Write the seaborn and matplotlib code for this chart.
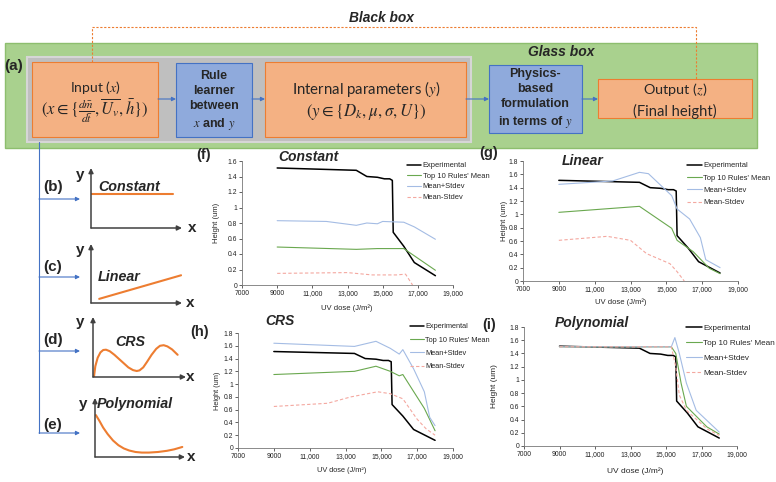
import matplotlib
matplotlib.use("Agg")
import matplotlib.pyplot as plt
import seaborn as sns
import pandas as pd
from matplotlib.patches import Rectangle

# ------------------------------------------------------------------ data
series_names = ["Experimental", "Top 10 Rules' Mean", "Mean+Stdev", "Mean-Stdev"]
dose_ticks = [7000, 9000, 11000, 13000, 15000, 17000, 19000]
dose_tick_labels = ["7000", "9000", "11,000", "13,000", "15,000", "17,000", "19,000"]

exp_dose = [9000, 13500, 14100, 14700, 15100, 15400, 15550, 15600, 16200, 16800, 18000]
exp_height = [1.51, 1.48, 1.40, 1.39, 1.37, 1.37, 1.35, 0.68, 0.50, 0.29, 0.12]

# (f) Constant
const_mean_dose = [9000, 13500, 14700, 16200, 18000]
const_mean = [0.49, 0.46, 0.47, 0.47, 0.19]
const_plus_dose = [9000, 11800, 13500, 14100, 14700, 15000, 16200, 16800, 18000]
const_plus = [0.83, 0.82, 0.77, 0.80, 0.79, 0.82, 0.81, 0.75, 0.59]
const_minus_dose = [9000, 13000, 14400, 15800, 16300, 16700]
const_minus = [0.15, 0.16, 0.13, 0.13, 0.14, 0.0]

# (g) Linear
lin_mean_dose = [9000, 13500, 15300, 15600, 16500, 17400, 18000]
lin_mean = [1.03, 1.12, 0.79, 0.61, 0.44, 0.19, 0.11]
lin_plus_dose = [9000, 12000, 13500, 14000, 15300, 15600, 16300, 16900, 17200, 18000]
lin_plus = [1.45, 1.50, 1.63, 1.61, 1.28, 1.08, 0.93, 0.65, 0.32, 0.20]
lin_minus_dose = [9000, 11700, 13000, 13900, 15200, 15600, 16000]
lin_minus = [0.61, 0.67, 0.61, 0.41, 0.26, 0.14, 0.0]

# (h) CRS
crs_mean_dose = [9000, 13500, 14700, 15500, 16000, 16200, 17400, 18000]
crs_mean = [1.15, 1.20, 1.28, 1.20, 1.13, 1.15, 0.62, 0.27]
crs_plus_dose = [9000, 13500, 14700, 15500, 16000, 16200, 16800, 17400, 17700, 18000]
crs_plus = [1.64, 1.59, 1.67, 1.56, 1.47, 1.54, 1.24, 0.88, 0.48, 0.35]
crs_minus_dose = [9000, 12000, 13300, 14800, 15500, 16200, 17000, 17500, 18000]
crs_minus = [0.65, 0.70, 0.80, 0.88, 0.85, 0.77, 0.45, 0.30, 0.20]

# (i) Polynomial
poly_mean_dose = [9000, 15300, 15550, 15850, 16150, 17300, 18000]
poly_mean = [1.50, 1.50, 1.40, 0.95, 0.60, 0.29, 0.18]
poly_plus_dose = [9000, 15300, 15500, 15750, 16150, 16700, 18000]
poly_plus = [1.50, 1.50, 1.64, 1.40, 0.95, 0.54, 0.21]
poly_minus_dose = [9000, 15300, 15550, 15750, 16150, 17300, 18000]
poly_minus = [1.50, 1.50, 1.20, 0.77, 0.54, 0.26, 0.16]

# schematic curves (illustrative, local units 0..10)
sch_const_x = [0.0, 9.0]
sch_const_y = [5.7, 5.7]
sch_lin_x = [0.9, 9.9]
sch_lin_y = [0.7, 4.7]
sch_crs_x = [0.1, 0.25, 0.5, 0.8, 1.1, 1.4, 1.8, 2.3, 2.8, 3.3, 3.8, 4.3, 4.7, 5.0, 5.4,
             5.8, 6.3, 6.8, 7.2, 7.6, 8.0, 8.5, 9.1]
sch_crs_y = [0.0, 1.8, 3.2, 4.1, 4.5, 4.55, 4.3, 3.7, 3.0, 2.3, 1.6, 1.15, 1.0, 1.1, 1.6,
             2.5, 3.7, 4.7, 5.2, 5.3, 5.1, 4.6, 3.7]
sch_poly_x = [0.1, 0.5, 0.9, 1.4, 2.0, 2.6, 3.2, 3.8, 4.5, 5.2, 6.0, 7.0, 8.0, 8.8, 9.7]
sch_poly_y = [7.1, 6.1, 5.0, 3.9, 2.8, 2.0, 1.45, 1.1, 0.85, 0.75, 0.75, 0.85, 1.05, 1.3, 1.7]

# ------------------------------------------------------------------ style
sns.set_theme(style="ticks")
plt.rcParams["font.family"] = ["Liberation Sans", "DejaVu Sans"]
plt.rcParams["mathtext.fontset"] = "stix"

W, H = 776, 482
fig = plt.figure(figsize=(W / 100, H / 100), dpi=100)
fig.patch.set_facecolor("white")


def frac_rect(left, top, right, bottom):
    return [left / W, 1 - bottom / H, (right - left) / W, (bottom - top) / H]


ORANGE_F, ORANGE_E = "#F4B183", "#ED7D31"
BLUE_F, BLUE_E = "#8FAADC", "#4472C4"
GREEN_F, GREEN_E = "#A9D18E", "#8DBE6E"
GRAY_F, GRAY_E = "#BFBFBF", "#D6D6D6"
ARROW = "#4472C4"

# ------------------------------------------------------------------ overlay (diagram)
ov = fig.add_axes([0, 0, 1, 1])
ov.set_xlim(0, W)
ov.set_ylim(H, 0)
ov.axis("off")


def box(l, t, r, b, fc, ec, lw=0.8):
    ov.add_patch(Rectangle((l, t), r - l, b - t, facecolor=fc, edgecolor=ec, lw=lw))


box(5, 43, 757, 148, GREEN_F, GREEN_E, 1.0)
box(27, 57, 471, 142, GRAY_F, GRAY_E, 1.5)
ov.plot([92, 92, 696, 696], [62, 27, 27, 79], color=ORANGE_E, lw=0.8, ls=(0, (2, 1.5)))
box(32, 62, 158, 137, ORANGE_F, ORANGE_E)
box(176, 63, 252, 137, BLUE_F, BLUE_E)
box(265, 62, 466, 137, ORANGE_F, ORANGE_E)
box(489, 65, 582, 133, BLUE_F, BLUE_E)
box(598, 79, 752, 118, ORANGE_F, ORANGE_E)

for x0, x1 in [(158, 176), (252, 265), (466, 489), (582, 598)]:
    ov.annotate("", xy=(x1, 99), xytext=(x0, 99),
                arrowprops=dict(arrowstyle="-|>", color=ARROW, lw=0.8, mutation_scale=6,
                                shrinkA=0, shrinkB=0))

CAL = ["Lato", "DejaVu Sans"]
ov.text(381, 18, "Black box", ha="center", va="center", fontsize=9.9, fontweight="bold", style="italic")
ov.text(561, 52, "Glass box", ha="center", va="center", fontsize=10, fontweight="bold", style="italic")
ov.text(14, 66, "(a)", ha="center", va="center", fontsize=11, fontweight="bold")

ov.text(95, 87, "Input ($x$)", ha="center", va="center", fontsize=10, family=CAL)
ov.text(95, 111, r"$(x \in \{\frac{d\bar{m}}{d\bar{t}}, \overline{U_v}, \bar{h}\})$",
        ha="center", va="center", fontsize=12)
ov.text(214, 101, "Rule\nlearner\nbetween\n$x$ and $y$", ha="center", va="center",
        fontsize=9, fontweight="bold", linespacing=1.35)
ov.text(366, 89, "Internal parameters ($y$)", ha="center", va="center", fontsize=10.8, family=CAL)
ov.text(366, 112, r"$(y \in \{D_k, \mu, \sigma, U\})$", ha="center", va="center", fontsize=12.2)
ov.text(535, 99, "Physics-\nbased\nformulation\nin terms of $y$", ha="center", va="center",
        fontsize=9, fontweight="bold", linespacing=1.35)
ov.text(675, 90, "Output ($z$)", ha="center", va="center", fontsize=10.4, family=CAL)
ov.text(675, 111, "(Final height)", ha="center", va="center", fontsize=10.6, family=CAL)

# tree on left
ov.plot([39, 39], [142, 433], color=ARROW, lw=0.8)
for yy, lab, ly in [(199, "(b)", 187), (277, "(c)", 267), (351, "(d)", 340), (433, "(e)", 425)]:
    ov.annotate("", xy=(80, yy), xytext=(39, yy),
                arrowprops=dict(arrowstyle="-|>", color=ARROW, lw=0.8, mutation_scale=6,
                                shrinkA=0, shrinkB=0))
    ov.text(53, ly, lab, ha="center", va="center", fontsize=11, fontweight="bold")

# ------------------------------------------------------------------ schematics
schematics = [
    dict(rect=(91, 168, 182, 228), x=sch_const_x, y=sch_const_y, name="Constant",
         npos=(0.8, 6.9), nha="left", ypos=(-1.2, 8.8), xpos=(11.1, 0)),
    dict(rect=(91, 244, 182, 303), x=sch_lin_x, y=sch_lin_y, name="Linear",
         npos=(0.7, 4.4), nha="left", ypos=(-1.2, 9.0), xpos=(10.9, 0)),
    dict(rect=(93, 317, 186, 377), x=sch_crs_x, y=sch_crs_y, name="CRS",
         npos=(4.0, 5.8), nha="center", ypos=(-1.4, 9.2), xpos=(10.4, 0)),
    dict(rect=(95, 398, 185, 457), x=sch_poly_x, y=sch_poly_y, name="Polynomial",
         npos=(4.4, 9.0), nha="center", ypos=(-1.3, 9.0), xpos=(10.7, 0)),
]
for s in schematics:
    a = fig.add_axes(frac_rect(*s["rect"]))
    a.set_xlim(0, 10)
    a.set_ylim(0, 10)
    a.axis("off")
    a.patch.set_alpha(0)
    sns.lineplot(x=s["x"], y=s["y"], ax=a, color=ORANGE_E, lw=1.5, sort=False, estimator=None)
    for xy in [(0, 10), (10, 0)]:
        a.annotate("", xy=xy, xytext=(0, 0), annotation_clip=False,
                   arrowprops=dict(arrowstyle="-|>", color="#404040", lw=1.1, mutation_scale=7,
                                   shrinkA=0, shrinkB=0))
    a.text(*s["npos"], s["name"], ha=s["nha"], va="center", fontsize=10.3,
           fontweight="bold", style="italic", clip_on=False)
    a.text(*s["ypos"], "y", ha="center", va="center", fontsize=11, fontweight="bold", clip_on=False)
    a.text(*s["xpos"], "x", ha="center", va="center", fontsize=11, fontweight="bold", clip_on=False)

# ------------------------------------------------------------------ panels
palette = {"Experimental": "#000000", "Top 10 Rules' Mean": "#6AA84F",
           "Mean+Stdev": "#A4BCE4", "Mean-Stdev": "#F4A8A0"}
dashes = {"Experimental": "", "Top 10 Rules' Mean": "", "Mean+Stdev": "", "Mean-Stdev": (3, 2)}
sizes = {"Experimental": 1.1, "Top 10 Rules' Mean": 0.8, "Mean+Stdev": 0.8, "Mean-Stdev": 0.8}

panels = [
    dict(letter="(f)", title="Constant", rect=(242, 161, 453, 285), ymax=1.6,
         mean=(const_mean_dose, const_mean), plus=(const_plus_dose, const_plus),
         minus=(const_minus_dose, const_minus),
         title_xy=(308, 157), letter_xy=(204, 155), leg=(407, 162), lsp=0.45, lfs=5.4,
         ylab_x=220, xlab=(347, 304), fs_lab=5.5),
    dict(letter="(g)", title="Linear", rect=(523, 161, 738, 281), ymax=1.8,
         mean=(lin_mean_dose, lin_mean), plus=(lin_plus_dose, lin_plus),
         minus=(lin_minus_dose, lin_minus),
         title_xy=(583, 161), letter_xy=(489, 153), leg=(687, 162), lsp=0.65, lfs=5.5,
         ylab_x=508, xlab=(621, 298), fs_lab=5.5),
    dict(letter="(h)", title="CRS", rect=(238, 333, 453, 448), ymax=1.8,
         mean=(crs_mean_dose, crs_mean), plus=(crs_plus_dose, crs_plus),
         minus=(crs_minus_dose, crs_minus),
         title_xy=(280, 321), letter_xy=(200, 332), leg=(410, 323), lsp=0.85, lfs=5.3,
         ylab_x=221, xlab=(342, 467), fs_lab=5.3),
    dict(letter="(i)", title="Polynomial", rect=(524, 327, 737, 446), ymax=1.8,
         mean=(poly_mean_dose, poly_mean), plus=(poly_plus_dose, poly_plus),
         minus=(poly_minus_dose, poly_minus),
         title_xy=(592, 323), letter_xy=(489, 325), leg=(686, 324), lsp=0.9, lfs=5.9,
         ylab_x=498, xlab=(635, 467), fs_lab=6.0),
]

for p in panels:
    rows = []
    for name, (xs, ys) in zip(series_names, [(exp_dose, exp_height), p["mean"], p["plus"], p["minus"]]):
        for xv, yv in zip(xs, ys):
            rows.append(dict(dose=xv, height=yv, series=name))
    df = pd.DataFrame(rows)
    l, t, r, b = p["rect"]
    ax = fig.add_axes(frac_rect(l, t, r, b))
    ax.patch.set_alpha(0)
    sns.lineplot(data=df, x="dose", y="height", hue="series", style="series", size="series",
                 hue_order=series_names, style_order=series_names, size_order=series_names,
                 palette=palette, dashes=dashes, sizes=sizes, estimator=None, sort=False,
                 ax=ax, legend="full")
    ax.set_xlim(7000, 19000)
    ax.set_ylim(0, p["ymax"])
    ax.set_xticks(dose_ticks)
    ax.set_xticklabels(dose_tick_labels)
    yt = [round(0.2 * k, 1) for k in range(int(round(p["ymax"] / 0.2)) + 1)]
    ax.set_yticks(yt)
    ax.set_yticklabels(["0" if v == 0 else ("1" if v == 1 else f"{v:g}") for v in yt])
    ax.tick_params(labelsize=4.9, length=2, width=0.5, pad=1.5, colors="#222222")
    for side in ["top", "right"]:
        ax.spines[side].set_visible(False)
    for side in ["left", "bottom"]:
        ax.spines[side].set_linewidth(0.6)
        ax.spines[side].set_color("#777777")
    ax.set_xlabel("UV dose (J/m²)", fontsize=p["fs_lab"], labelpad=0)
    ax.set_ylabel("Height (um)", fontsize=p["fs_lab"], labelpad=0)
    ax.xaxis.set_label_coords((p["xlab"][0] - l) / (r - l), (b - p["xlab"][1]) / (b - t))
    ax.yaxis.set_label_coords((p["ylab_x"] - l) / (r - l), 0.5)
    leg = ax.get_legend()
    handles = list(leg.legend_handles)
    labels = [tx.get_text() for tx in leg.get_texts()]
    leg.remove()
    ax.legend(handles, labels, loc="upper left",
              bbox_to_anchor=((p["leg"][0] - l) / (r - l), (b - p["leg"][1]) / (b - t)),
              frameon=False, fontsize=p["lfs"], handlelength=1.9, handletextpad=0.2,
              labelspacing=p["lsp"], borderpad=0, borderaxespad=0)
    ov.text(*p["title_xy"], p["title"], ha="center", va="center", fontsize=10,
            fontweight="bold", style="italic")
    ov.text(*p["letter_xy"], p["letter"], ha="center", va="center", fontsize=10.5, fontweight="bold")

fig.savefig("out.png", dpi=100)
